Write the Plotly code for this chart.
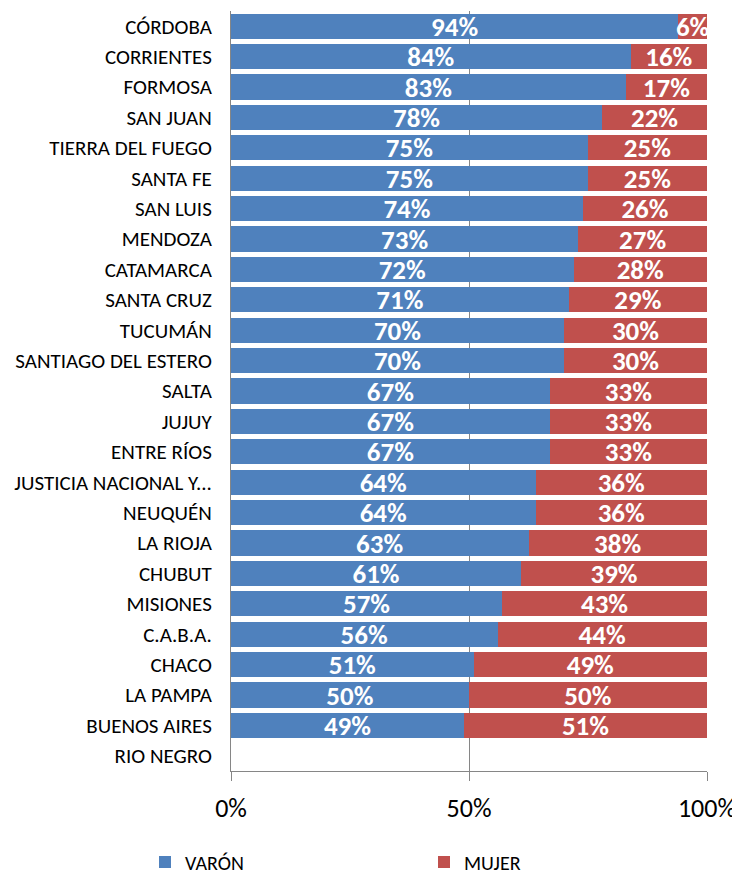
import plotly.graph_objects as go

categories = ["CÓRDOBA", "CORRIENTES", "FORMOSA", "SAN JUAN", "TIERRA DEL FUEGO", "SANTA FE",
              "SAN LUIS", "MENDOZA", "CATAMARCA", "SANTA CRUZ", "TUCUMÁN", "SANTIAGO DEL ESTERO",
              "SALTA", "JUJUY", "ENTRE RÍOS", "JUSTICIA NACIONAL Y...", "NEUQUÉN", "LA RIOJA",
              "CHUBUT", "MISIONES", "C.A.B.A.", "CHACO", "LA PAMPA", "BUENOS AIRES", "RIO NEGRO"]
varon = [94, 84, 83, 78, 75, 75, 74, 73, 72, 71, 70, 70, 67, 67, 67, 64, 64, 62.5, 61, 57, 56, 51, 50, 49, 0]
mujer = [6, 16, 17, 22, 25, 25, 26, 27, 28, 29, 30, 30, 33, 33, 33, 36, 36, 37.5, 39, 43, 44, 49, 50, 51, 0]
x_ticks = [0, 50, 100]
x_tick_labels = ["0%", "50%", "100%"]

FONT = "Carlito, Calibri, Lato, sans-serif"
BLUE = "#4F81BD"
RED = "#C0504D"


def labels(vals):
    return [f"{round(v + 1e-9):d}%" if v > 0 else "" for v in vals]


fig = go.Figure()
for name, vals, col, leg in [("VARÓN", varon, BLUE, "legend"), ("MUJER", mujer, RED, "legend2")]:
    fig.add_trace(go.Bar(
        y=categories, x=vals, name=name, orientation="h", legend=leg, showlegend=True,
        marker=dict(color=col, line=dict(width=0)),
        text=labels(vals), textposition="inside", insidetextanchor="middle",
        constraintext="none", textangle=0,
        textfont=dict(family=FONT, size=27, color="white", weight="bold"),
    ))

W, H = 732, 866
leg_common = dict(orientation="h", xref="container", xanchor="left",
                  yref="container", y=1 - 854 / H, yanchor="middle",
                  font=dict(size=20, family=FONT), itemclick=False,
                  bgcolor="rgba(0,0,0,0)", visible=True)
fig.update_layout(
    barmode="stack", bargap=0.165,
    width=W, height=H,
    showlegend=True,
    margin=dict(l=223, r=33, t=3, b=103),
    paper_bgcolor="white", plot_bgcolor="white",
    font=dict(family=FONT, color="black"),
    legend=dict(x=137 / W, **leg_common),
    legend2=dict(x=416 / W, **leg_common),
    xaxis=dict(range=[0, 100], tickvals=x_ticks, ticktext=x_tick_labels,
               showgrid=True, gridcolor="#868686", gridwidth=1,
               showline=True, linecolor="#868686", linewidth=1,
               ticks="outside", ticklen=9, tickcolor="#868686",
               tickfont=dict(size=26, family=FONT), ticklabelstandoff=5,
               zeroline=False, fixedrange=True),
    yaxis=dict(autorange="reversed", showline=True, linecolor="#868686", linewidth=1,
               ticks="", tickfont=dict(size=21, family=FONT), ticklabelstandoff=14,
               showgrid=False, fixedrange=True),
)

fig.write_html("out.html")
